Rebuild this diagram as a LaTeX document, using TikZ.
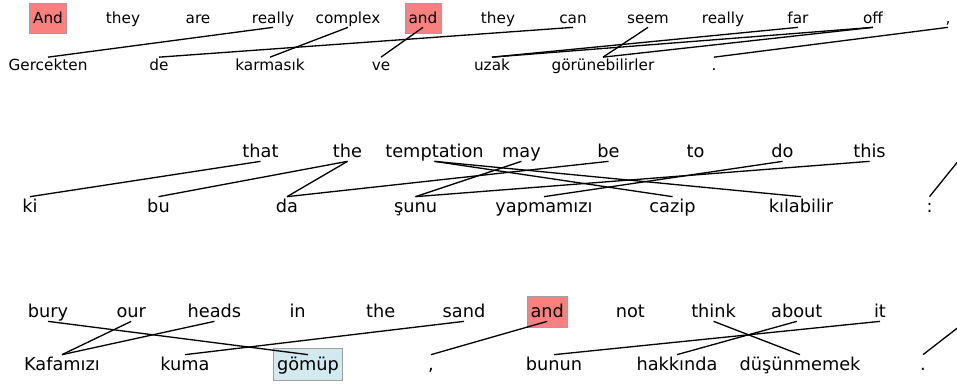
\documentclass[tikz,border=0pt]{standalone}
\usepackage{fontspec}
\setmainfont{DejaVu Sans}

\definecolor{boxred}{RGB}{250,128,128}
\definecolor{boxblue}{RGB}{210,233,240}

\begin{document}
\begin{tikzpicture}[x=0.02cm,y=-0.02cm]
    \tikzstyle{word}=[anchor=base,inner sep=0pt]
    \tikzstyle{small}=[word,font=\fontsize{8.7}{10}\selectfont,text height=0.26cm,text depth=0.08cm]
    \tikzstyle{big}=[word,font=\fontsize{10.1}{12}\selectfont,text height=0.3cm,text depth=0.08cm]

    \tikzstyle{every edge}=[draw,line width=0.75pt]

    \tikzstyle{R}=[draw=gray!75,fill=boxred,inner xsep=0.07cm,text depth=0.2cm]   % highlighted source word
    \tikzstyle{B}=[draw=gray!75,fill=boxblue,inner xsep=0.07cm,text depth=0.2cm]  % highlighted target word

    \useasboundingbox (0,0) rectangle (957,383);

    % first sentence
    \node[small,R,text height=0.39cm] (a1) at (48,23) {And};
    \node[small] (a2)  at (123,23) {they};
    \node[small] (a3)  at (198,23) {are};
    \node[small] (a4)  at (273,23) {really};
    \node[small] (a5)  at (348,23) {complex};
    \node[small,R,text height=0.39cm] (a6) at (423,23) {and};
    \node[small] (a7)  at (498,23) {they};
    \node[small] (a8)  at (573,23) {can};
    \node[small] (a9)  at (648,23) {seem};
    \node[small] (a10) at (723,23) {really};
    \node[small] (a11) at (798,23) {far};
    \node[small] (a12) at (873,23) {off};
    \node[small] (a13) at (948,23) {,};

    \node[small] (b1) at (48,70.5)  {Gercekten};
    \node[small] (b2) at (159,70.5) {de};
    \node[small] (b3) at (270,70.5) {karmasık};
    \node[small] (b4) at (381,70.5) {ve};
    \node[small] (b5) at (492,70.5) {uzak};
    \node[small] (b6) at (603,70.5) {görünebilirler};
    \node[small] (b7) at (714,70.5) {.};

    \path (a4.south) edge (b1.north);
    \path (a5.south) edge (b3.north);
    \path ([yshift=0.12cm]a6.south) edge (b4.north);
    \path (a8.south) edge (b2.north);
    \path (a9.south) edge (b6.north);
    \path (a11.south) edge (b5.north);
    \path (a12.south) edge (b5.north);
    \path (a12.south) edge (b6.north);
    \path (a13.south) edge (b7.north);

    % second sentence
    \node[big] (c1) at (260.5,157) {that};
    \node[big] (c2) at (347.5,157) {the};
    \node[big] (c3) at (434.5,157) {temptation};
    \node[big] (c4) at (521.5,157) {may};
    \node[big] (c5) at (608.5,157) {be};
    \node[big] (c6) at (695.5,157) {to};
    \node[big] (c7) at (782.5,157) {do};
    \node[big] (c8) at (869.5,157) {this};
    \node[big] (c9) at (958,157)   {:};

    \node[big] (d1) at (30,212)    {ki};
    \node[big] (d2) at (158.5,212) {bu};
    \node[big] (d3) at (287,212)   {da};
    \node[big] (d4) at (415.5,212) {şunu};
    \node[big] (d5) at (544,212)   {yapmamızı};
    \node[big] (d6) at (672.5,212) {cazip};
    \node[big] (d7) at (801,212)   {kılabilir};
    \node[big] (d8) at (929.5,212) {:};

    \path (c1.south) edge (d1.north);
    \path (c2.south) edge (d2.north);
    \path (c2.south) edge (d3.north);
    \path (c3.south) edge (d6.north);
    \path (c3.south) edge (d7.north);
    \path (c4.south) edge (d4.north);
    \path (c5.south) edge (d3.north);
    \path (c7.south) edge (d5.north);
    \path (c8.south) edge (d4.north);
    \path (c9.south) edge (d8.north);

    % third sentence
    \node[big] (e1)  at (48,317)    {bury};
    \node[big] (e2)  at (131.2,317) {our};
    \node[big] (e3)  at (214.4,317) {heads};
    \node[big] (e4)  at (297.6,317) {in};
    \node[big] (e5)  at (380.8,317) {the};
    \node[big] (e6)  at (464,317)   {sand};
    \node[big,R,text height=0.42cm] (e7) at (547.2,317) {and};
    \node[big] (e8)  at (630.4,317) {not};
    \node[big] (e9)  at (713.6,317) {think};
    \node[big] (e10) at (796.8,317) {about};
    \node[big] (e11) at (880,317)   {it};
    \node[big] (e12) at (966,317)   {.};

    \node[big] (f1) at (62,370)  {Kafamızı};
    \node[big] (f2) at (185,370) {kuma};
    \node[big,B,text height=0.44cm] (f3) at (308,370) {gömüp};
    \node[big] (f4) at (431,370) {,};
    \node[big] (f5) at (554,370) {bunun};
    \node[big] (f6) at (677,370) {hakkında};
    \node[big] (f7) at (800,370) {düşünmemek};
    \node[big] (f8) at (923,370) {.};

    \path (e1.south) edge ([yshift=-0.14cm]f3.north);
    \path (e2.south) edge (f1.north);
    \path (e3.south) edge (f1.north);
    \path (e6.south) edge (f2.north);
    \path ([yshift=0.12cm]e7.south) edge (f4.north);
    \path (e9.south) edge (f7.north);
    \path (e10.south) edge (f6.north);
    \path (e11.south) edge (f5.north);
    \path (e12.south) edge (f8.north);
\end{tikzpicture}
\end{document}
